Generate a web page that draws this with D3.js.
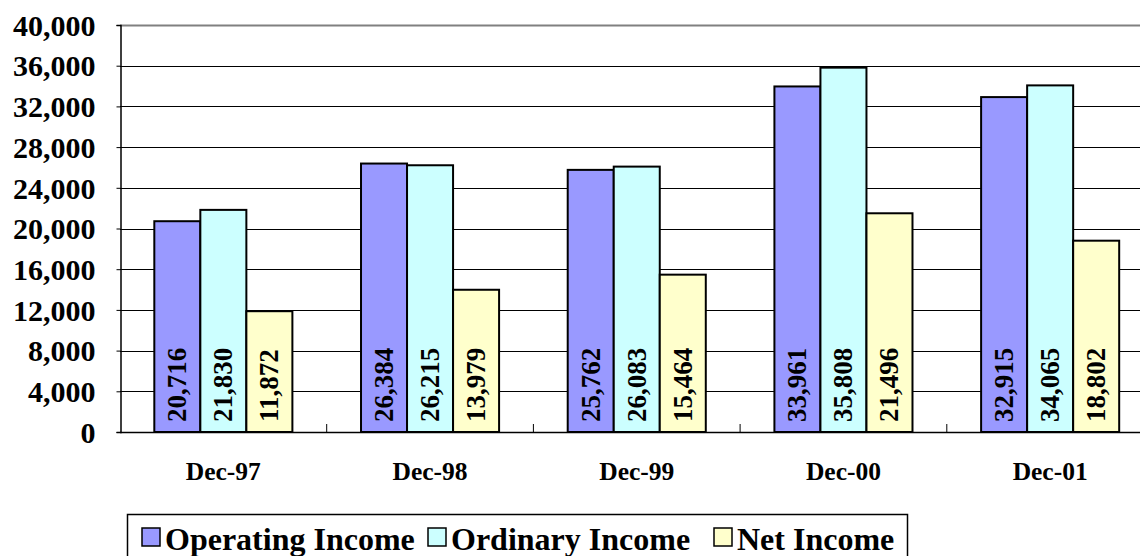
<!DOCTYPE html>
<html>
<head>
<meta charset="utf-8">
<script src="https://cdn.jsdelivr.net/npm/d3@7"></script>
<style>
    body { margin: 0; background: #fff; }
    svg { display: block; }
    text { font-family: "Liberation Serif", "Times New Roman", serif; font-weight: bold; fill: #000; }
</style>
</head>
<body>
<div id="chart"></div>
<script>

// data
const periods = ["Dec-97", "Dec-98", "Dec-99", "Dec-00", "Dec-01"];
const seriesNames = ["Operating Income", "Ordinary Income", "Net Income"];
const operatingIncome = [20716, 26384, 25762, 33961, 32915];
const ordinaryIncome = [21830, 26215, 26083, 35808, 34065];
const netIncome = [11872, 13979, 15464, 21496, 18802];
const yTicks = [0, 4000, 8000, 12000, 16000, 20000, 24000, 28000, 32000, 36000, 40000];
const seriesColours = ["#9999ff", "#ccffff", "#ffffcc"];

const seriesValues = [operatingIncome, ordinaryIncome, netIncome];

var svgWidth = 1140,
    svgHeight = 556;

var plot = {left: 120, top: 25, bottom: 432, right: 1153.5};

var svg = d3.select("#chart").append("svg")
    .attr("width", svgWidth)
    .attr("height", svgHeight);

var xscale = d3.scaleBand()
    .domain( periods )
    .range( [plot.left, plot.right] )
    .paddingInner( 0.332 )
    .paddingOuter( 0.166 );

var xsub = d3.scaleBand()
    .domain( seriesNames )
    .range( [0, xscale.bandwidth()] );

var yscale = d3.scaleLinear()
    .domain( [0, 40000] )
    .range( [plot.bottom, plot.top] );

var fmt = d3.format(",");

// gridlines
var grid = svg.append("g").attr("class", "grid");
grid.selectAll("line")
    .data( yTicks.filter( t => t > 0 ) )
    .enter().append("line")
        .attr("x1", plot.left)
        .attr("x2", svgWidth)
        .attr("y1", d => Math.round( yscale(d) ) + 0.5 )
        .attr("y2", d => Math.round( yscale(d) ) + 0.5 )
        .style("stroke", d => d == 40000 ? "#808080" : "#000")
        .style("stroke-width", d => d == 40000 ? 2 : 1);

// y axis
var yAxis = d3.axisLeft( yscale )
    .tickValues( yTicks )
    .tickSize( 4 )
    .tickPadding( 21 )
    .tickFormat( fmt );

var gY = svg.append("g")
    .attr("class", "axis--y")
    .attr("transform", "translate(" + (plot.left + 0.5) + ",0)")
    .call( yAxis );

gY.select(".domain").style("stroke", "#000").style("stroke-width", 1.5);
gY.selectAll(".tick line").style("stroke", "#000");
gY.selectAll(".tick text")
    .style("font-size", "30px")
    .style("font-family", "Liberation Serif")
    .style("font-weight", "bold")
    .attr("dy", "0.34em");

// bars
var groups = svg.selectAll(".period")
    .data( periods )
    .enter().append("g")
        .attr("class", "period")
        .attr("transform", d => "translate(" + xscale(d) + ",0)");

var bars = groups.selectAll(".bar")
    .data( (p, i) => seriesNames.map( (s, j) => ({ series: s, j: j, value: seriesValues[j][i] }) ) )
    .enter();

bars.append("rect")
    .attr("class", "bar")
    .attr("x", d => xsub( d.series ) )
    .attr("y", d => yscale( d.value ) )
    .attr("width", xsub.bandwidth() )
    .attr("height", d => yscale(0) - yscale( d.value ) )
    .style("fill", d => seriesColours[ d.j ] )
    .style("stroke", "#000")
    .style("stroke-width", 2);

bars.append("text")
    .attr("class", "value-label")
    .attr("transform", d => "translate(" + ( xsub( d.series ) + xsub.bandwidth() / 2 ) + "," + ( yscale(0) - 10 ) + ") rotate(-90)")
    .attr("dominant-baseline", "central")
    .attr("text-anchor", "start")
    .style("font-size", "27px")
    .text( d => fmt( d.value ) );

// x axis line and boundary ticks
svg.append("line")
    .attr("x1", plot.left)
    .attr("x2", svgWidth)
    .attr("y1", plot.bottom + 0.5)
    .attr("y2", plot.bottom + 0.5)
    .style("stroke", "#000")
    .style("stroke-width", 1.5);

svg.selectAll(".cat-tick")
    .data( periods.slice(1) )
    .enter().append("line")
        .attr("class", "cat-tick")
        .attr("x1", d => xscale(d) - xscale.step() * 0.166 )
        .attr("x2", d => xscale(d) - xscale.step() * 0.166 )
        .attr("y1", plot.bottom - 8)
        .attr("y2", plot.bottom)
        .style("stroke", "#000");

svg.selectAll(".x-label")
    .data( periods )
    .enter().append("text")
        .attr("class", "x-label")
        .attr("x", d => xscale(d) + xscale.bandwidth() / 2 )
        .attr("y", 480)
        .attr("text-anchor", "middle")
        .style("font-size", "25.5px")
        .text( d => d );

// legend
var legend = svg.append("g").attr("class", "legend");

legend.append("rect")
    .attr("x", 127.5)
    .attr("y", 514.5)
    .attr("width", 780)
    .attr("height", 60)
    .style("fill", "#fff")
    .style("stroke", "#000")
    .style("stroke-width", 1.5);

var legendX = [142, 428, 714];

var items = legend.selectAll(".legend-item")
    .data( seriesNames )
    .enter().append("g")
        .attr("class", "legend-item")
        .attr("transform", (d, i) => "translate(" + legendX[i] + ",528)");

items.append("rect")
    .attr("width", 18)
    .attr("height", 18)
    .style("fill", (d, i) => seriesColours[i])
    .style("stroke", "#000")
    .style("stroke-width", 1.5);

items.append("text")
    .attr("x", 23)
    .attr("y", 22)
    .style("font-size", "32px")
    .text( d => d );

</script>
</body>
</html>
